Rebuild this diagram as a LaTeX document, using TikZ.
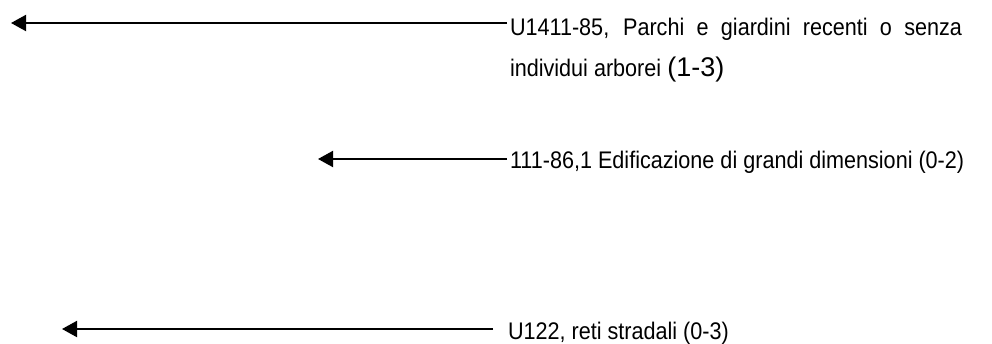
\documentclass[tikz,border=0pt]{standalone}
\usepackage{fontspec}
\usepackage{tikz}
\setmainfont{Liberation Sans}[FakeStretch=0.9]
\newfontfamily\widefont{Liberation Sans}
\usetikzlibrary{arrows.meta}
\tikzstyle{legend} = [inner sep=0pt,
                      outer sep=0pt,
                      font=\fontsize{24}{41}\selectfont,
                      text=black]
\tikzstyle{arrow} = [line width=2pt,
                     -{Triangle[length=15pt,width=16pt]}]

\begin{document}
\begin{tikzpicture}[x=1pt,y=-1pt]
    \useasboundingbox (0,0) rectangle (992,343);

    \node (parchi) [legend, anchor=north west, text width=452pt, align=justify] at (510,18.5)
          {U1411-85, Parchi e giardini recenti o senza\linebreak individui arborei {\widefont\fontsize{27}{41}\selectfont(1-3)}};
    \node (edific) [legend, anchor=base west] at (510,168) {111-86,1 Edificazione di grandi dimensioni (0-2)};
    \node (strade) [legend, anchor=base west] at (508,339) {U122, reti stradali (0-3)};

    \coordinate (parchitip) at (11,23);
    \coordinate (edifictip) at (318,159);
    \coordinate (stradetip) at (62,329);

    \draw [arrow, shorten <=3pt]  (parchitip -| parchi.west) -- (parchitip);
    \draw [arrow, shorten <=3pt]  (edifictip -| edific.west) -- (edifictip);
    \draw [arrow, shorten <=15pt] (stradetip -| strade.west) -- (stradetip);

  \end{tikzpicture}
\end{document}
